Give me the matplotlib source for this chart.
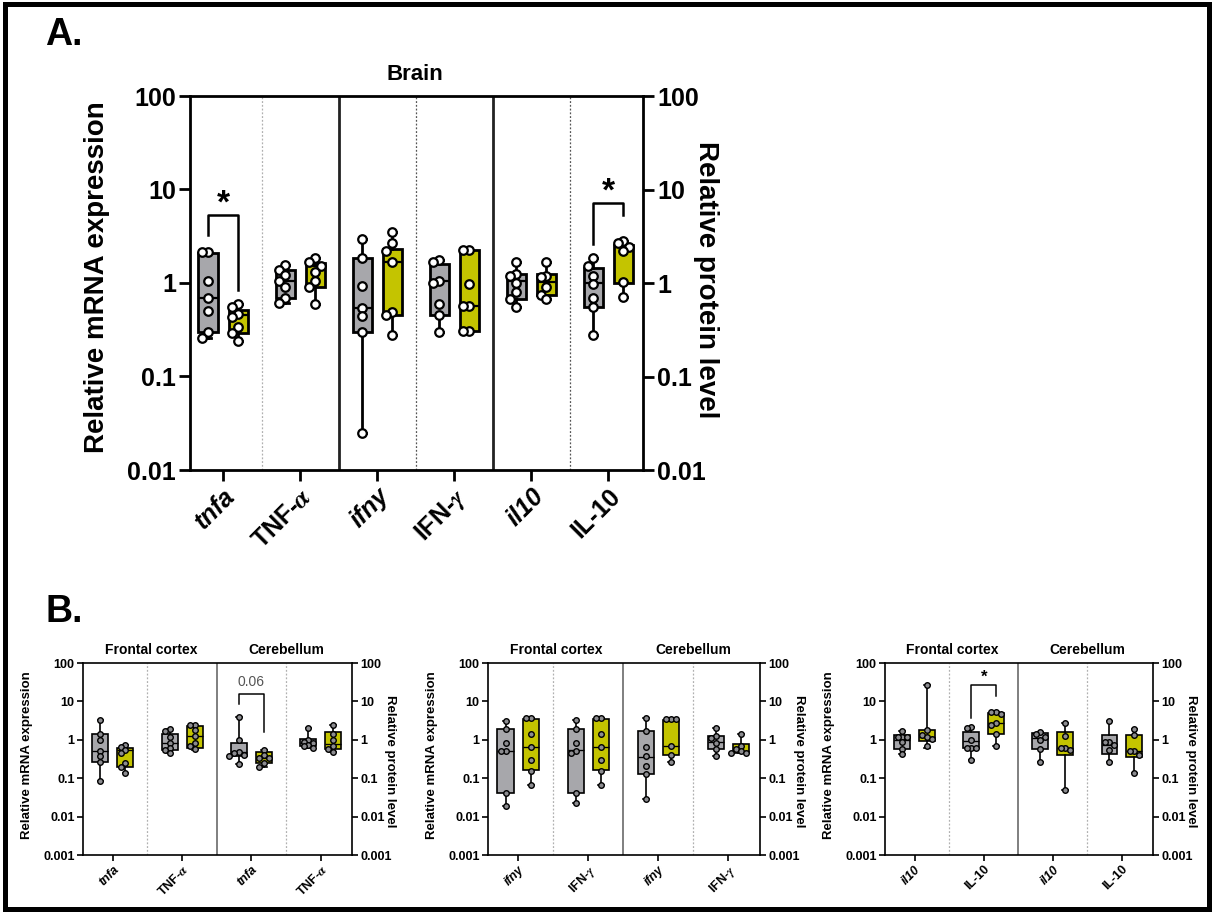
import numpy as np
import matplotlib.pyplot as plt
from matplotlib.patches import Rectangle
from matplotlib.ticker import FixedLocator, FixedFormatter, NullLocator

plt.rcParams['font.family'] = ['Liberation Sans', 'DejaVu Sans']
plt.rcParams['mathtext.fontset'] = 'stix'
plt.rcParams['font.weight'] = 'bold'

W, H = 1213, 913
GRAY = '#a7a7ab'
YELLOW = '#c4c400'

# ---------------- panel A : Brain ----------------
a_labels = ['tnfa', r'TNF-$\alpha$', 'ifny', r'IFN-$\gamma$', 'il10', 'IL-10']
# (min, q1, median, q3, max)
a_ctrl_box = [(0.26, 0.30, 0.69, 2.10, 2.15),
              (0.61, 0.69, 1.04, 1.39, 1.55),
              (0.025, 0.30, 0.54, 1.86, 2.94),
              (0.30, 0.46, 1.04, 1.60, 1.77),
              (0.56, 0.68, 1.04, 1.25, 1.66),
              (0.28, 0.56, 1.00, 1.45, 1.86)]
a_trt_box = [(0.24, 0.29, 0.45, 0.52, 0.60),
             (0.60, 0.90, 1.53, 1.65, 1.83),
             (0.28, 0.46, 1.66, 2.30, 3.50),
             (0.31, 0.31, 0.57, 2.24, 2.24),
             (0.68, 0.75, 1.03, 1.25, 1.69),
             (0.70, 1.00, 2.40, 2.55, 2.82)]
a_ctrl_pts = [[2.15, 2.15, 1.06, 0.69, 0.50, 0.30, 0.26],
              [1.55, 1.39, 1.22, 1.04, 0.90, 0.69, 0.61],
              [2.94, 1.86, 0.94, 0.54, 0.44, 0.30, 0.025],
              [1.77, 1.66, 1.04, 1.00, 0.60, 0.46, 0.30],
              [1.66, 1.25, 1.18, 1.00, 0.81, 0.68, 0.56],
              [1.86, 1.53, 1.20, 0.98, 0.69, 0.56, 0.28]]
a_trt_pts = [[0.60, 0.55, 0.47, 0.43, 0.34, 0.29, 0.24],
             [1.83, 1.69, 1.53, 1.30, 1.06, 0.90, 0.60],
             [3.50, 2.66, 2.21, 1.66, 0.49, 0.45, 0.28],
             [2.24, 2.24, 0.98, 0.57, 0.57, 0.31, 0.31],
             [1.69, 1.18, 1.15, 0.90, 0.75, 0.68],
             [2.82, 2.66, 2.40, 2.21, 1.02, 0.70]]
# bracket: (category, left foot, top, right foot, label, label y)
a_brackets = [(0, 3.3, 5.3, 0.85, '*', 7.0),
              (5, 2.6, 7.2, 5.3, '*', 9.5)]

# ---------------- panel B : Frontal cortex / Cerebellum ----------------
b_titles = ['Frontal cortex', 'Cerebellum']

b1_labels = ['tnfa', r'TNF-$\alpha$', 'tnfa', r'TNF-$\alpha$']
b1_ctrl_box = [(0.087, 0.26, 0.52, 1.45, 3.3),
               (0.45, 0.55, 0.82, 1.45, 1.9),
               (0.24, 0.39, 0.47, 0.85, 3.9),
               (0.62, 0.68, 0.85, 1.02, 2.0)]
b1_trt_box = [(0.14, 0.20, 0.55, 0.61, 0.74),
              (0.55, 0.60, 1.27, 2.3, 2.5),
              (0.20, 0.25, 0.33, 0.47, 0.55),
              (0.48, 0.58, 0.80, 1.6, 2.5)]
b1_ctrl_pts = [[3.3, 1.43, 1.0, 0.52, 0.37, 0.26, 0.087],
               [1.9, 1.65, 1.2, 0.82, 0.6, 0.55, 0.45],
               [3.9, 1.0, 0.47, 0.45, 0.40, 0.38, 0.24],
               [2.0, 1.0, 0.9, 0.85, 0.75, 0.67, 0.62]]
b1_trt_pts = [[0.74, 0.66, 0.55, 0.45, 0.25, 0.20, 0.14],
              [2.46, 2.46, 1.75, 1.22, 0.82, 0.67, 0.58],
              [0.55, 0.41, 0.33, 0.33, 0.25, 0.20],
              [2.46, 1.4, 1.0, 0.67, 0.58, 0.48]]
b1_brackets = [(2, 8.7, 15.8, 1.58, '0.06', 32.0)]

b2_labels = ['ifny', r'IFN-$\gamma$', 'ifny', r'IFN-$\gamma$']
b2_ctrl_box = [(0.019, 0.04, 0.52, 1.9, 3.1),
               (0.022, 0.042, 0.55, 1.9, 3.2),
               (0.029, 0.127, 0.35, 1.7, 3.7),
               (0.38, 0.57, 0.90, 1.27, 2.0)]
b2_trt_box = [(0.067, 0.16, 0.64, 3.5, 3.8),
              (0.067, 0.16, 0.64, 3.5, 3.8),
              (0.26, 0.40, 0.68, 3.3, 3.4),
              (0.44, 0.46, 0.50, 0.78, 1.4)]
b2_ctrl_pts = [[3.1, 1.9, 0.82, 0.52, 0.52, 0.04, 0.019],
               [3.2, 1.9, 0.82, 0.52, 0.45, 0.042, 0.022],
               [3.7, 1.65, 0.64, 0.37, 0.21, 0.127, 0.029],
               [2.0, 1.27, 1.1, 0.82, 0.57, 0.38]]
b2_trt_pts = [[3.7, 3.7, 1.4, 0.64, 0.3, 0.15, 0.067],
              [3.7, 3.7, 1.4, 0.64, 0.3, 0.15, 0.067],
              [3.4, 3.4, 3.4, 0.67, 0.41, 0.26],
              [1.4, 0.67, 0.57, 0.5, 0.46, 0.45]]
b2_brackets = []

b3_labels = ['il10', 'IL-10', 'il10', 'IL-10']
b3_ctrl_box = [(0.43, 0.57, 1.0, 1.3, 1.65),
               (0.29, 0.60, 0.95, 1.6, 2.2),
               (0.27, 0.58, 1.1, 1.5, 1.6),
               (0.26, 0.42, 0.72, 1.35, 3.0)]
b3_trt_box = [(0.63, 0.95, 1.15, 1.75, 26.0),
              (0.70, 1.40, 2.7, 4.9, 5.3),
              (0.048, 0.40, 0.62, 1.55, 2.7),
              (0.135, 0.35, 0.50, 1.35, 1.9)]
b3_ctrl_pts = [[1.65, 1.2, 1.2, 1.2, 0.9, 0.57, 0.43],
               [2.2, 2.0, 1.0, 0.63, 0.63, 0.63, 0.29],
               [1.55, 1.4, 1.2, 1.0, 0.58, 0.27],
               [3.0, 0.9, 0.9, 0.74, 0.55, 0.26]]
b3_trt_pts = [[26.0, 1.75, 1.35, 1.15, 1.05, 0.67],
              [5.2, 5.2, 4.7, 2.7, 2.5, 1.4, 0.71],
              [2.7, 1.27, 0.6, 0.6, 0.53, 0.048],
              [1.9, 1.35, 0.52, 0.52, 0.41, 0.135]]
b3_brackets = [(1, 3.7, 27.0, 13.5, '*', 42.0)]


def rect(l, t, r, b):
    return [l / W, 1 - b / H, (r - l) / W, (b - t) / H]


def swarm(vals, step, thr):
    placed, offs = [], []
    for v in vals:
        lv = np.log10(v)
        o = 0
        for k in [0, -1, 1, -2, 2]:
            o = k * step
            if all(abs(lv - p) > thr or abs(o - q) > step * 0.9 for p, q in placed):
                break
        placed.append((lv, o))
        offs.append(o)
    return np.array(offs)


def draw_group(ax, pos, box, pts, color, st):
    stats = [dict(whislo=box[0], q1=box[1], med=box[2], q3=box[3], whishi=box[4], fliers=[])]
    ax.bxp(stats, positions=[pos], widths=st['bw'], patch_artist=True, showfliers=False,
           boxprops=dict(facecolor=color, edgecolor='black', linewidth=st['lw']),
           medianprops=dict(color='black', linewidth=st['lw'] * 0.8),
           whiskerprops=dict(color='black', linewidth=st['lw']),
           capprops=dict(color='black', linewidth=st['lw']),
           capwidths=st['bw'] * 0.35)
    xs = pos + swarm(pts, st['bw'] * 0.3, st['thr'])
    ax.scatter(xs, pts, s=st['ms'], facecolor=st['mface'], edgecolor='black',
               linewidth=st['mlw'], zorder=5, clip_on=False)


def draw_panel(ax, labels, ctrl_box, trt_box, ctrl_pts, trt_pts, brackets, st):
    n = len(labels)
    ax.set_yscale('log')
    ax.set_ylim(st['ymin'], 100)
    ax.set_xlim(-0.43, n - 0.55)
    for i in range(n):
        draw_group(ax, i - st['off'], ctrl_box[i], ctrl_pts[i], GRAY, st)
        draw_group(ax, i + st['off'], trt_box[i], trt_pts[i], YELLOW, st)
    for i in range(n - 1):
        if i % 2 == 1:
            ax.axvline(i + 0.5, color=st['sepcol'], lw=st['lw'], zorder=0)
        else:
            col = '#b0b0b0' if i == 0 else st['dotcol']
            ax.axvline(i + 0.5, color=col, lw=0.9, ls=(0, (1.5, 1.5)), zorder=0)
    for c, yl, yt, yr, txt, ty in brackets:
        x1, x2 = c - st['off'], c + st['off']
        ax.plot([x1, x1, x2, x2], [yl, yt, yt, yr], color='black', lw=st['lw'] * 0.9)
        if txt == '*':
            ax.text(c, ty, txt, ha='center', va='center', fontsize=st['star'], fontweight='bold')
        else:
            ax.text(c, ty, txt, ha='center', va='center', fontsize=10,
                    fontweight='normal', color='#555555')
    ax.set_xticks(range(n))
    ax.set_xticklabels(labels, rotation=45, ha='right', rotation_mode='anchor',
                       fontsize=st['xs'], fontweight='bold')
    for lab, txt in zip(ax.get_xticklabels(), labels):
        if '$' not in txt and txt[0].islower():
            lab.set_fontstyle('italic')
    dec = [10.0 ** k for k in range(int(np.log10(st['ymin'])), 3)]
    declab = ['%g' % d for d in dec]
    ax.yaxis.set_major_locator(FixedLocator(dec))
    ax.yaxis.set_major_formatter(FixedFormatter(declab))
    ax.yaxis.set_minor_locator(NullLocator())
    ax.tick_params(axis='both', length=st['tl'], width=st['lw'], labelsize=st['ts'], pad=2)
    for s in ax.spines.values():
        s.set_linewidth(st['lw'])
    ax.spines['right'].set_visible(False)
    ax.set_ylabel('Relative mRNA expression', fontsize=st['ls'], fontweight='bold')
    ax2 = ax.twinx()
    ax2.set_yscale('log')
    ax2.set_ylim(st['ymin'], 100)
    ax2.yaxis.set_major_locator(FixedLocator(dec))
    ax2.yaxis.set_major_formatter(FixedFormatter(declab))
    ax2.yaxis.set_minor_locator(NullLocator())
    ax2.tick_params(axis='y', length=st['tl'], width=st['lw'], labelsize=st['ts'], pad=2)
    for s in ax2.spines.values():
        s.set_visible(False)
    ax2.spines['right'].set_visible(True)
    ax2.spines['right'].set_linewidth(st['lw'])
    ax2.set_ylabel('Relative protein level', rotation=270, fontsize=st['ls'], fontweight='bold')
    for lab in ax.get_yticklabels() + ax2.get_yticklabels():
        lab.set_fontweight('bold')
    return ax2


fig = plt.figure(figsize=(W / 100, H / 100), dpi=100)

st_a = dict(bw=0.25, off=0.195, lw=2.0, ms=38, mface='white', mlw=1.6, thr=0.085,
            ymin=0.01, sepcol='#222222', dotcol='#555555', star=24, ts=18, xs=19, ls=20, tl=8)
axA = fig.add_axes(rect(190, 96, 643, 470))
axA2 = draw_panel(axA, a_labels, a_ctrl_box, a_trt_box, a_ctrl_pts, a_trt_pts, a_brackets, st_a)
axA.yaxis.set_label_coords(-0.177, 0.516)
axA2.yaxis.set_label_coords(1.168, 0.508)
axA.text(2.49, 1.03, 'Brain', transform=axA.get_xaxis_transform(), ha='center',
         va='bottom', fontsize=16, fontweight='bold')
fig.text(45 / W, 1 - 45 / H, 'A.', fontsize=27, fontweight='bold')
fig.text(45 / W, 1 - 622 / H, 'B.', fontsize=27, fontweight='bold')

st_b = dict(bw=0.23, off=0.18, lw=1.2, ms=16, mface='#8c8c90', mlw=1.0, thr=0.12,
            ymin=0.001, sepcol='#6a6a6a', dotcol='#b0b0b0', star=12, ts=9, xs=9.5, ls=9.5, tl=4)
b_sets = [(83, 352, b1_labels, b1_ctrl_box, b1_trt_box, b1_ctrl_pts, b1_trt_pts, b1_brackets),
          (488, 760, b2_labels, b2_ctrl_box, b2_trt_box, b2_ctrl_pts, b2_trt_pts, b2_brackets),
          (885, 1153, b3_labels, b3_ctrl_box, b3_trt_box, b3_ctrl_pts, b3_trt_pts, b3_brackets)]
for l, r, labels, cb, tb, cp, tp, br in b_sets:
    ax = fig.add_axes(rect(l, 663, r, 855))
    ax2 = draw_panel(ax, labels, cb, tb, cp, tp, br, st_b)
    ax.yaxis.set_label_coords(-0.185, 0.52)
    ax2.yaxis.set_label_coords(1.165, 0.49)
    for k, title in enumerate(b_titles):
        ax.text(0.55 + 2 * k - 0.05 * k, 1.03, title, transform=ax.get_xaxis_transform(),
                ha='center', va='bottom', fontsize=10, fontweight='bold')

fig.patches.append(Rectangle((4.5 / W, 4.5 / H), 1 - 9 / W, 1 - 9 / H, transform=fig.transFigure,
                             fill=False, lw=3.6, edgecolor='black'))

fig.savefig('out.png', dpi=100)
